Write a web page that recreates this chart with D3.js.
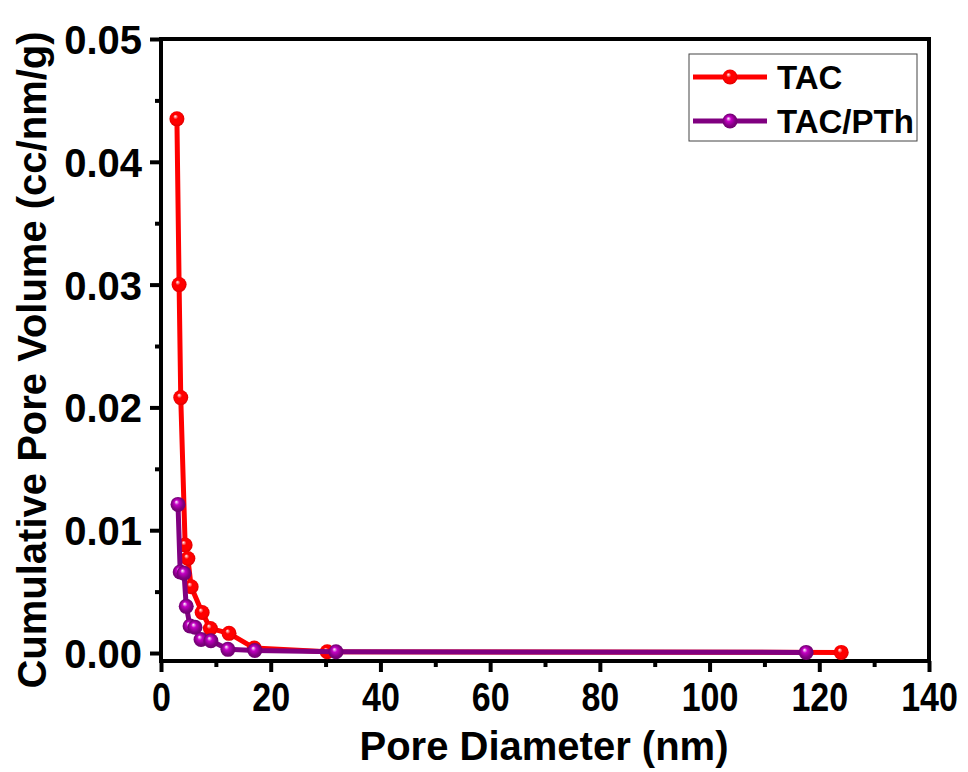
<!DOCTYPE html>
<html>
<head>
<meta charset="utf-8">
<script src="https://cdn.jsdelivr.net/npm/d3@7"></script>
<style>
  body { margin: 0; background: #fff; }
  text { font-family: "Liberation Sans", Arial, sans-serif; font-weight: bold; }
</style>
</head>
<body>
<div id="chart"></div>
<script>
// pore diameter (nm) / cumulative pore volume (cc/nm/g)
const tacX = [2.9, 3.3, 3.6, 4.4, 4.9, 5.5, 7.5, 9.0, 12.4, 17.0, 30.3, 124];
const tacY = [0.0435, 0.0300, 0.0208, 0.0088, 0.0077, 0.0054, 0.0033, 0.0020, 0.0016, 0.0004, 0.0001, 0.00005];
const pthX = [3.1, 3.5, 4.2, 4.6, 5.3, 6.2, 7.3, 9.1, 12.2, 17.1, 31.9, 117.6];
const pthY = [0.0121, 0.0066, 0.0065, 0.0038, 0.0022, 0.0021, 0.0011, 0.0010, 0.0003, 0.0002, 0.0001, 0.00005];
const xTicks = [0, 20, 40, 60, 80, 100, 120, 140];
const yTicks = [0.00, 0.01, 0.02, 0.03, 0.04, 0.05];

const series = [
    { name: "TAC", color: "#ff0000", x: tacX, y: tacY },
    { name: "TAC/PTh", color: "#800080", x: pthX, y: pthY }
];

const W = 968, H = 772;
const margin = { top: 39, right: 39, bottom: 111, left: 161 };
const width = W - margin.left - margin.right;
const height = H - margin.top - margin.bottom;

const svg = d3.select("#chart").append("svg")
    .attr("width", W)
    .attr("height", H);

const defs = svg.append("defs");
series.forEach((s, i) => {
    const g = defs.append("radialGradient")
        .attr("id", "ball" + i)
        .attr("cx", "50%").attr("cy", "50%").attr("r", "55%")
        .attr("fx", "38%").attr("fy", "32%");
    g.append("stop").attr("offset", "0%").attr("stop-color", "#ffffff");
    g.append("stop").attr("offset", "30%").attr("stop-color", d3.color(s.color).brighter(1.2));
    g.append("stop").attr("offset", "70%").attr("stop-color", s.color);
    g.append("stop").attr("offset", "100%").attr("stop-color", d3.color(s.color).darker(0.5));
});

const g = svg.append("g").attr("transform", `translate(${margin.left},${margin.top})`);

const x = d3.scaleLinear().domain([0, 140]).range([0, width]);
const y = d3.scaleLinear().domain([-0.00065, 0.05]).range([height, 0]);

// minor ticks
const xMinor = d3.range(10, 140, 20);
const yMinor = d3.range(0.005, 0.05, 0.01);

g.append("g")
    .attr("transform", `translate(0,${height})`)
    .call(d3.axisBottom(x).tickValues(xMinor).tickSize(6).tickFormat(""))
    .call(a => a.select(".domain").remove())
    .selectAll("line").attr("stroke-width", 4);

g.append("g")
    .call(d3.axisLeft(y).tickValues(yMinor).tickSize(6).tickFormat(""))
    .call(a => a.select(".domain").remove())
    .selectAll("line").attr("stroke-width", 4);

const xAxis = g.append("g")
    .attr("transform", `translate(0,${height})`)
    .call(d3.axisBottom(x).tickValues(xTicks).tickSize(11).tickPadding(5).tickFormat(d3.format("d")));
xAxis.select(".domain").remove();
xAxis.selectAll("line").attr("stroke-width", 4);
xAxis.selectAll("text")
    .attr("fill", "#000")
    .style("font-size", "40px")
    .attr("transform", "scale(0.85,1)")
    .attr("dy", "0.85em");

const yAxis = g.append("g")
    .call(d3.axisLeft(y).tickValues(yTicks).tickSize(11).tickPadding(8).tickFormat(d3.format(".2f")));
yAxis.select(".domain").remove();
yAxis.selectAll("line").attr("stroke-width", 4);
yAxis.selectAll("text")
    .attr("fill", "#000")
    .style("font-size", "40px")
    .attr("dy", "0.36em");

// frame
g.append("rect")
    .attr("width", width)
    .attr("height", height)
    .attr("fill", "none")
    .attr("stroke", "#000")
    .attr("stroke-width", 4);

const line = d3.line()
    .x(d => x(d[0]))
    .y(d => y(d[1]));

series.forEach((s, i) => {
    const pts = s.x.map((v, k) => [v, s.y[k]]);
    g.append("path")
        .datum(pts)
        .attr("fill", "none")
        .attr("stroke", s.color)
        .attr("stroke-width", 5)
        .attr("stroke-linejoin", "round")
        .attr("d", line);
    g.selectAll(".pt" + i)
        .data(pts)
        .join("circle")
        .attr("class", "pt" + i)
        .attr("cx", d => x(d[0]))
        .attr("cy", d => y(d[1]))
        .attr("r", 7.5)
        .attr("fill", `url(#ball${i})`);
});

// legend
const legend = svg.append("g").attr("transform", "translate(689,54)");
legend.append("rect")
    .attr("width", 228)
    .attr("height", 87)
    .attr("fill", "#fff")
    .attr("stroke", "#444")
    .attr("stroke-width", 1);
series.forEach((s, i) => {
    const ly = 23 + i * 44;
    legend.append("line")
        .attr("x1", 4).attr("x2", 78)
        .attr("y1", ly).attr("y2", ly)
        .attr("stroke", s.color)
        .attr("stroke-width", 5);
    legend.append("circle")
        .attr("cx", 41).attr("cy", ly).attr("r", 7.5)
        .attr("fill", `url(#ball${i})`);
    legend.append("text")
        .attr("x", 88).attr("y", ly)
        .attr("dy", "0.36em")
        .style("font-size", "33px")
        .text(s.name);
});

// axis titles
svg.append("text")
    .attr("x", margin.left + width / 2 - 1)
    .attr("y", 760)
    .attr("text-anchor", "middle")
    .style("font-size", "40px")
    .text("Pore Diameter (nm)");

svg.append("text")
    .attr("transform", `translate(46,360) rotate(-90)`)
    .attr("text-anchor", "middle")
    .style("font-size", "40px")
    .text("Cumulative Pore Volume (cc/nm/g)");
</script>
</body>
</html>
